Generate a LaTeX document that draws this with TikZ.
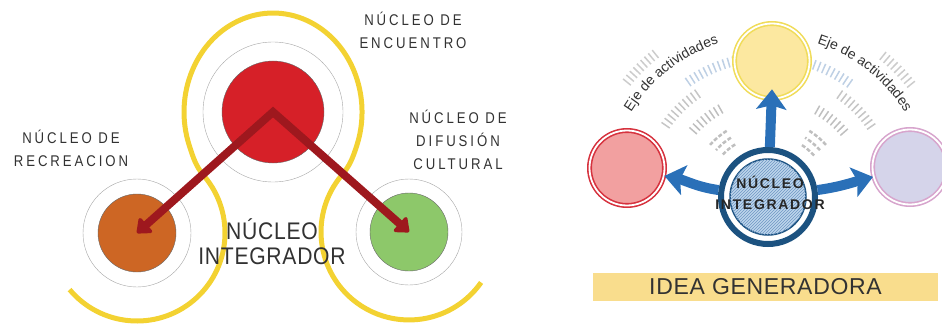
\documentclass[tikz,border=0pt]{standalone}
\usepackage{fontspec}
\setmainfont{Liberation Sans}
\newfontfamily\labfont[FakeStretch=0.85,LetterSpace=19]{Liberation Sans}
\newfontfamily\bigfont[FakeStretch=0.88,LetterSpace=3]{Liberation Sans}
\newfontfamily\nucfont[LetterSpace=12]{Liberation Sans}
\newfontfamily\ideafont[LetterSpace=3]{Liberation Sans}
\usetikzlibrary{arrows.meta,patterns,decorations.text}
\definecolor{oro}{RGB}{243,210,50}
\definecolor{rojo}{RGB}{214,32,40}
\definecolor{naranja}{RGB}{205,102,36}
\definecolor{verde}{RGB}{141,200,106}
\definecolor{granate}{RGB}{158,24,30}
\definecolor{tinta}{RGB}{50,50,50}
\definecolor{amaFill}{RGB}{252,232,160}
\definecolor{amaRing}{RGB}{240,220,90}
\definecolor{rosaFill}{RGB}{242,160,160}
\definecolor{rosaRing}{RGB}{214,50,62}
\definecolor{lilaFill}{RGB}{213,212,234}
\definecolor{lilaRing}{RGB}{215,165,205}
\definecolor{azul}{RGB}{42,112,184}
\definecolor{marino}{RGB}{28,82,128}
\definecolor{celeste}{RGB}{190,214,236}
\definecolor{raya}{RGB}{110,150,195}
\definecolor{banda}{RGB}{249,221,141}
\tikzstyle{halo}=[shape=circle,inner sep=0,draw=gray!70,fill=white,thin]
\tikzstyle{nucleo}=[shape=circle,inner sep=0,draw=black!60,thin]
\tikzstyle{orbita}=[oro,line width=5pt]
\tikzstyle{flechaRoja}=[granate,line width=8pt,line join=miter,{Triangle[width=22pt,length=14pt,round]}-{Triangle[width=22pt,length=14pt,round]}]
\tikzstyle{etiqueta}=[text=tinta,align=center,font=\labfont\fontsize{15.5}{23}\selectfont]
\tikzstyle{satelite}=[shape=circle,inner sep=0,minimum size=75pt,line width=1.6pt,double=white,double distance=1.8pt]
\tikzstyle{flechaAzul}=[azul,line width=10pt,-{Stealth[width=30pt,length=20pt,inset=4pt]}]
\tikzstyle{rayas}=[line width=10pt,dash pattern=on 1.5pt off 3.5pt]

\begin{document}
\begin{tikzpicture}[x=1pt,y=1pt]
\clip (0,0) rectangle (942,330);

\draw[orbita] (137,97) ++(220:88) arc[start angle=220,end angle=400,radius=88]
  to[out=130,in=288] (189.4,184.1) arc[start angle=200,end angle=-20,x radius=89,y radius=99]
  to[out=252,in=50] (341.6,154.6) arc[start angle=140,end angle=325,radius=88];

\node[halo,minimum size=140pt] (encHalo) at (273,218) {};
\node[nucleo,fill=rojo,minimum size=102pt] (enc) at (273,218) {};
\node[halo,minimum size=108pt] (recHalo) at (137,97) {};
\node[nucleo,fill=naranja,minimum size=78pt] (rec) at (137,97) {};
\node[halo,minimum size=106pt] (difHalo) at (409,98) {};
\node[nucleo,fill=verde,minimum size=78pt] (dif) at (409,98) {};

\draw[flechaRoja] (rec.center) -- (enc.center) -- (dif.center);

\node[etiqueta] (encTxt) at (413,300) {NÚCLEO DE\\ENCUENTRO};
\node[etiqueta] (recTxt) at (71,182) {NÚCLEO DE\\RECREACION};
\node[etiqueta] (difTxt) at (458,190) {NÚCLEO DE\\DIFUSIÓN\\CULTURAL};
\node[text=tinta,align=center,font=\bigfont\fontsize{24}{25}\selectfont] (intTxt) at (272,88) {NÚCLEO\\INTEGRADOR};

\foreach \r/\a/\b/\c in {182/128/142/gray!40,140/104/126/raya!45,125/124/146/gray!45,100/118/140/gray!50,
  182/38/52/gray!40,140/54/76/raya!45,125/34/56/gray!45,100/40/62/gray!50}
  \draw[rayas,\c] (768,133) ++(\a:\r) arc[start angle=\a,end angle=\b,radius=\r];
\foreach \r in {62,70,78}{
  \draw[gray!50,line width=2.5pt,dash pattern=on 4pt off 2pt] (768,133) ++(122:\r) arc[start angle=122,end angle=138,radius=\r];
  \draw[gray!50,line width=2.5pt,dash pattern=on 4pt off 2pt] (768,133) ++(42:\r) arc[start angle=42,end angle=58,radius=\r];
}
\path[decorate,decoration={text along path,text align=center,text={|\fontsize{14}{14}\selectfont\color{tinta}|Eje de actividades}}]
  (768,133) ++(156:161) arc[start angle=156,end angle=100,radius=161];
\path[decorate,decoration={text along path,text align=center,text={|\fontsize{14}{14}\selectfont\color{tinta}|Eje de actividades}}]
  (768,133) ++(80:161) arc[start angle=80,end angle=24,radius=161];

\node[satelite,draw=amaRing,fill=amaFill] (arriba) at (772,269) {};
\node[satelite,draw=rosaRing,fill=rosaFill] (izq) at (627,162) {};
\node[satelite,draw=lilaRing,fill=lilaFill] (der) at (910,163) {};

\node[shape=circle,inner sep=0,minimum size=94pt,draw=marino,line width=6pt,fill=white] (integ) at (768,133) {};
\node[shape=circle,inner sep=0,minimum size=76pt,draw=marino,line width=1.5pt,fill=celeste,
  postaction={pattern=north east lines,pattern color=raya}] (integIn) at (768,133) {};

\draw[flechaAzul] (integ) -- ([yshift=10pt]arriba.south);
\draw[flechaAzul] (integ) to[out=172,in=-12] (izq);
\draw[flechaAzul] (integ) to[out=8,in=195] (der);

\node[text=black!85,align=center,font=\nucfont\bfseries\fontsize{14}{21}\selectfont] (integTxt) at (770,137) {NÚCLEO\\INTEGRADOR};

\node[fill=banda,minimum width=345pt,minimum height=28pt,inner sep=0,text=tinta,font=\ideafont\fontsize{23}{23}\selectfont] (idea) at (765.5,43) {IDEA GENERADORA};
\end{tikzpicture}
\end{document}
